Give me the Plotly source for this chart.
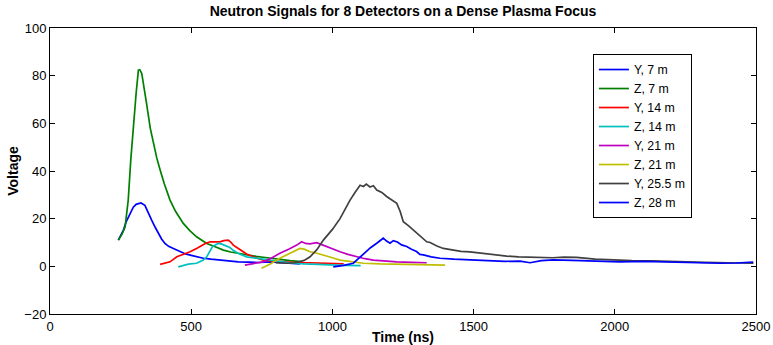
import plotly.graph_objects as go

# ---- data (time in ns, voltage) ----
y7_t = [242, 250, 260, 270, 283, 295, 305, 313, 322, 336, 348, 360, 372, 384, 395, 407, 420, 437, 450,
        460, 480, 500, 520, 543, 570, 600, 630, 667, 700, 740, 780, 814, 850, 885]
y7_v = [11.0, 12.6, 15.2, 18.8, 22.2, 24.8, 26.0, 26.4, 26.6, 25.6, 22.8, 19.4, 16.5, 13.8, 11.5, 9.6, 8.4, 7.5, 6.7,
        6.1, 5.2, 4.6, 4.0, 3.4, 3.0, 2.6, 2.3, 1.9, 1.8, 1.6, 1.9, 1.7, 1.3, 1.0]

z7_t = [242, 255, 266, 277, 286, 295, 305, 313, 318, 325, 335, 342, 355, 366, 378, 390, 405, 425, 445,
        472, 495, 519, 535, 555, 585, 614, 640, 667, 700, 730, 755, 800, 850, 890]
z7_v = [11.0, 13.5, 16.6, 27.8, 44.6, 58.6, 72.6, 82.3, 82.5, 80.9, 74.0, 68.3, 58.0, 51.5, 45.5, 40.4, 34.5, 27.8, 23.0,
        18.0, 15.0, 12.4, 11.0, 9.6, 8.2, 6.8, 6.0, 5.4, 4.6, 4.2, 3.8, 3.0, 2.4, 2.0]

y14_t = [390, 410, 425, 449, 470, 496, 519, 537, 550, 567, 580, 602, 615, 631, 640, 649, 667, 680, 696,
         720, 755, 790, 830, 870, 920, 970, 1010, 1040]
y14_v = [0.8, 1.5, 1.9, 4.0, 4.8, 6.1, 7.5, 8.9, 9.6, 10.3, 10.2, 10.3, 10.8, 11.0, 10.2, 8.9, 7.5, 6.3, 5.2,
         4.0, 2.6, 2.2, 1.8, 1.6, 1.5, 1.3, 1.2, 1.0]

z14_t = [454, 470, 490, 519, 543, 555, 567, 575, 585, 596, 606, 615, 625, 637, 650, 667, 696, 708, 740,
         779, 820, 860, 900, 950, 991, 1040, 1100]
z14_v = [-0.2, 0.3, 0.9, 1.3, 2.6, 4.0, 6.2, 8.2, 9.0, 9.6, 9.4, 9.0, 8.6, 7.9, 6.6, 5.4, 4.0, 3.8, 3.2,
         2.6, 1.8, 1.3, 1.0, 0.7, 0.5, 0.4, 0.3]

y21_t = [690, 720, 755, 785, 814, 845, 874, 891, 905, 920, 944, 960, 980, 1000, 1027, 1055, 1086, 1115,
         1145, 1185, 1228, 1280, 1334]
y21_v = [0.5, 1.0, 1.9, 3.5, 5.5, 7.2, 8.9, 10.3, 9.6, 9.4, 9.9, 9.2, 8.2, 7.3, 6.1, 5.0, 4.0, 3.2,
         2.6, 2.2, 1.9, 1.7, 1.5]

z21_t = [749, 780, 814, 850, 885, 900, 921, 945, 968, 1000, 1027, 1070, 1110, 1170, 1230, 1280, 1334, 1399]
z21_v = [-0.8, 1.0, 3.4, 5.5, 7.5, 7.2, 6.1, 5.5, 4.8, 3.6, 2.6, 1.8, 1.3, 1.0, 0.8, 0.6, 0.5, 0.5]

y25_t = [800, 838, 870, 900, 921, 945, 968, 1000, 1027, 1045, 1062, 1080, 1098, 1110, 1120, 1133, 1145,
         1157, 1175, 1192, 1210, 1228, 1240, 1251, 1270, 1287, 1310, 1334, 1346, 1370, 1393, 1410, 1428,
         1455, 1487, 1515, 1546, 1580, 1617, 1660, 1723, 1780, 1820, 1865, 1930, 1995, 2060, 2130, 2200,
         2255, 2320, 2400, 2491]
y25_v = [1.5, 1.3, 1.5, 2.5, 4.0, 7.0, 11.0, 15.5, 20.0, 24.0, 27.7, 31.0, 34.0, 33.5, 34.5, 33.3, 33.8,
         32.0, 31.0, 29.3, 28.0, 26.4, 23.0, 18.7, 17.0, 15.2, 12.5, 10.3, 10.0, 8.5, 7.5, 7.2, 6.8,
         6.3, 6.1, 5.7, 5.4, 4.8, 4.3, 4.0, 3.8, 3.6, 3.9, 3.8, 3.0, 2.6, 2.4, 2.3, 2.0,
         1.9, 1.7, 1.5, 1.3]

z28_t = [1003, 1040, 1074, 1090, 1110, 1135, 1157, 1170, 1180, 1192, 1204, 1216, 1230, 1245, 1263, 1280,
         1298, 1310, 1322, 1350, 1381, 1430, 1487, 1550, 1610, 1664, 1700, 1740, 1782, 1850, 1920, 2018,
         2100, 2200, 2300, 2373, 2430, 2490]
z28_v = [-0.2, 0.4, 1.3, 3.0, 5.5, 7.8, 9.7, 10.8, 11.8, 10.6, 9.7, 10.8, 10.2, 9.0, 8.3, 7.2,
         6.2, 5.0, 4.8, 4.0, 3.4, 3.0, 2.7, 2.6, 2.1, 2.2, 1.5, 2.4, 2.7, 2.5, 2.2, 1.9,
         2.1, 1.7, 1.6, 1.3, 1.4, 1.8]

names = ["Y, 7 m", "Z, 7 m", "Y, 14 m", "Z, 14 m", "Y, 21 m", "Z, 21 m", "Y, 25.5 m", "Z, 28 m"]
series_t = [y7_t, z7_t, y14_t, z14_t, y21_t, z21_t, y25_t, z28_t]
series_v = [y7_v, z7_v, y14_v, z14_v, y21_v, z21_v, y25_v, z28_v]
colors = ["#0000ff", "#008000", "#ff0000", "#00bfbf", "#bf00bf", "#bfbf00", "#404040", "#0000ff"]

fig = go.Figure()
for n, t, v, c in zip(names, series_t, series_v, colors):
    fig.add_trace(go.Scatter(x=t, y=v, mode="lines", name=n,
                             line=dict(color=c, width=1.7)))

font_family = "Liberation Sans, Arial, Helvetica, sans-serif"
axis_common = dict(showline=True, linecolor="black", linewidth=1, mirror="ticks",
                   ticks="inside", ticklen=5, tickcolor="black", showgrid=False,
                   zeroline=False, automargin=False,
                   tickfont=dict(size=13, color="black", family=font_family))

fig.update_layout(
    width=773, height=345,
    margin=dict(l=50, r=17, t=28, b=31, autoexpand=False),
    paper_bgcolor="white", plot_bgcolor="white",
    font=dict(family=font_family, size=13, color="black"),
    title=dict(text="<b>Neutron Signals for 8 Detectors on a Dense Plasma Focus</b>",
               x=0.5, xanchor="center", xref="paper", y=0.967, yanchor="middle",
               font=dict(size=14, color="black")),
    xaxis=dict(range=[0, 2500], tickvals=[0, 500, 1000, 1500, 2000, 2500],
               title=dict(text="<b>Time (ns)</b>", standoff=2, font=dict(size=14)),
               **axis_common),
    yaxis=dict(range=[-20, 100], tickvals=[-20, 0, 20, 40, 60, 80, 100],
               title=dict(text="<b>Voltage</b>", standoff=2, font=dict(size=14)),
               **axis_common),
    legend=dict(x=0.769, y=0.909, xanchor="left", yanchor="top",
                bordercolor="black", borderwidth=1, bgcolor="white",
                font=dict(size=12.3, color="black", family=font_family),
                itemwidth=30, tracegroupgap=0),
    showlegend=True,
)

fig.write_html("out.html")
